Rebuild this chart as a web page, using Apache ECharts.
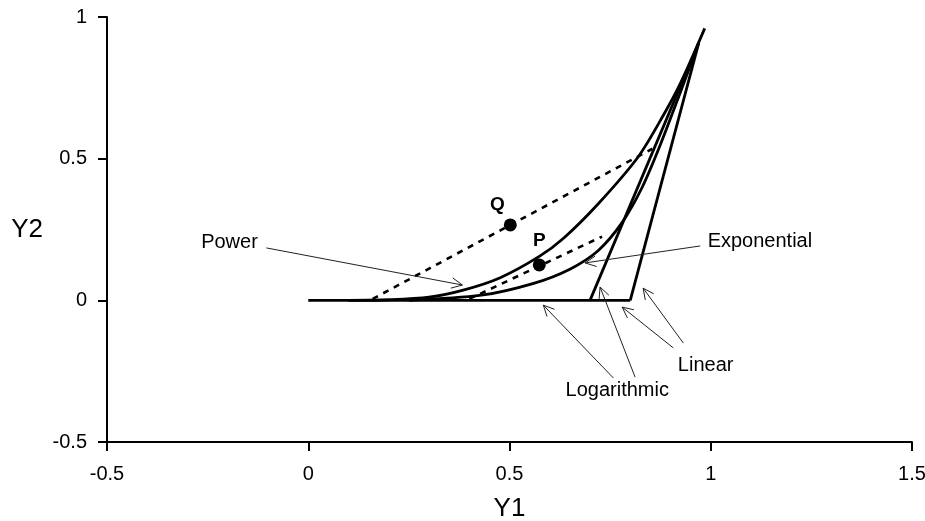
<!DOCTYPE html>
<html>
<head>
<meta charset="utf-8">
<script src="https://cdn.jsdelivr.net/npm/echarts@6/dist/echarts.min.js"></script>
<style>
  html, body { margin: 0; padding: 0; background: #fff; }
  #chart { width: 925px; height: 521px; }
</style>
</head>
<body>
<div id="chart"></div>
<script>
// axis ticks
var xTicks = [-0.5, 0, 0.5, 1, 1.5];
var yTicks = [-0.5, 0, 0.5, 1];

// curves as [Y1, Y2]
var baseLine = [[0, 0], [0.8, 0]];
var powerCurve = [[0.1, 0], [0.2, 0.002], [0.3, 0.011], [0.385, 0.036], [0.477, 0.08], [0.574, 0.155],
                  [0.635, 0.22], [0.72, 0.34], [0.819, 0.505], [0.883, 0.655], [0.926, 0.77], [0.985, 0.96]];
var expCurve = [[0.25, 0], [0.43, 0.018], [0.56, 0.06], [0.65, 0.11], [0.72, 0.175], [0.78, 0.275],
                [0.83, 0.40], [0.875, 0.55], [0.926, 0.74], [0.97, 0.908]];
var logLine = [[0.7, 0], [0.97, 0.908]];
var linearLine = [[0.8, 0], [0.97, 0.908]];
var qDashed = [[0.16, 0.005], [0.855, 0.535]];
var pDashed = [[0.40, 0.005], [0.73, 0.225]];

// the two marked points
var pointNames = ['Q', 'P'];
var pointValues = [[0.502, 0.266], [0.574, 0.125]];
var pointLabelPos = [[0.47, 0.337], [0.574, 0.212]];

// annotation arrows: [fromX, fromY, toX, toY]
var arrows = [
  [-0.104, 0.185, 0.383, 0.054],   // Power
  [0.974, 0.192, 0.688, 0.132],    // Exponential
  [0.907, -0.168, 0.780, -0.024],  // Linear
  [0.932, -0.151, 0.832, 0.043],   // Linear
  [0.758, -0.274, 0.584, -0.017],  // Logarithmic
  [0.812, -0.271, 0.725, 0.047]    // Logarithmic
];
var noteNames = ['Power', 'Exponential', 'Linear', 'Logarithmic'];
var notePos = [[-0.124, 0.203], [0.991, 0.206], [0.917, -0.229], [0.638, -0.317]];
var noteSide = ['left', 'right', 'right', 'right'];

var chart = echarts.init(document.getElementById('chart'));
var font = 'Liberation Sans, Arial, sans-serif';

function solid(data) {
  return {
    type: 'line', data: data, showSymbol: false, symbol: 'none', silent: true,
    lineStyle: { color: '#000', width: 2.8 }, z: 3
  };
}
function dashed(data) {
  return {
    type: 'line', data: data, showSymbol: false, symbol: 'none', silent: true,
    lineStyle: { color: '#000', width: 2.6, type: [6, 6] }, z: 3
  };
}

var powerSmooth = solid(powerCurve); powerSmooth.smooth = 0.3;
var expSmooth = solid(expCurve); expSmooth.smooth = 0.3;

var series = [
  solid(baseLine),
  powerSmooth,
  expSmooth,
  solid(logLine),
  solid(linearLine),
  dashed(qDashed),
  dashed(pDashed),
  {
    type: 'scatter', silent: true, z: 5,
    symbolSize: 13,
    itemStyle: { color: '#000', opacity: 1 },
    data: pointValues
  },
  {
    type: 'scatter', silent: true, z: 5,
    symbolSize: 1,
    itemStyle: { color: 'rgba(0,0,0,0)', opacity: 1 },
    label: {
      show: true, position: 'inside', color: '#000', fontSize: 19, fontWeight: 'bold', fontFamily: font,
      formatter: function (p) { return pointNames[p.dataIndex]; }
    },
    data: pointLabelPos
  },
  {
    type: 'scatter', silent: true, z: 5,
    symbolSize: 1,
    itemStyle: { color: 'rgba(0,0,0,0)', opacity: 1 },
    data: notePos.map(function (p, i) {
      return {
        value: p,
        label: {
          show: true, position: noteSide[i], distance: 0,
          color: '#000', fontSize: 20, fontFamily: font,
          formatter: noteNames[i]
        }
      };
    })
  },
  {
    type: 'custom', silent: true, z: 4,
    data: arrows,
    renderItem: function (params, api) {
      var a = api.coord([api.value(0), api.value(1)]);
      var b = api.coord([api.value(2), api.value(3)]);
      var ang = Math.atan2(b[1] - a[1], b[0] - a[0]);
      var len = 12, spread = 0.45;
      var h1 = [b[0] - len * Math.cos(ang - spread), b[1] - len * Math.sin(ang - spread)];
      var h2 = [b[0] - len * Math.cos(ang + spread), b[1] - len * Math.sin(ang + spread)];
      var st = { stroke: '#222', lineWidth: 1, fill: null };
      return {
        type: 'group',
        children: [
          { type: 'line', shape: { x1: a[0], y1: a[1], x2: b[0], y2: b[1] }, style: st },
          { type: 'polyline', shape: { points: [h1, b, h2] }, style: st }
        ]
      };
    }
  }
];

var axisCommon = {
  type: 'value',
  interval: 0.5,
  splitLine: { show: false },
  axisLine: { show: true, onZero: false, lineStyle: { color: '#000', width: 2 } },
  axisTick: { show: true, inside: false, length: 9, lineStyle: { color: '#000', width: 2 } },
  axisLabel: { color: '#000', fontSize: 20, fontFamily: font },
  nameLocation: 'middle',
  nameTextStyle: { color: '#000', fontSize: 26, fontFamily: font }
};

var option = {
  animation: false,
  backgroundColor: '#fff',
  grid: { left: 107, right: 13, top: 17, bottom: 79, containLabel: false, outerBoundsMode: 'none' },
  xAxis: Object.assign({}, axisCommon, {
    min: xTicks[0], max: xTicks[xTicks.length - 1],
    name: 'Y1', nameGap: 54,
    axisLabel: Object.assign({}, axisCommon.axisLabel, { margin: 22 })
  }),
  yAxis: Object.assign({}, axisCommon, {
    min: yTicks[0], max: yTicks[yTicks.length - 1],
    name: 'Y2', nameGap: 64, nameRotate: 0,
    nameTextStyle: Object.assign({}, axisCommon.nameTextStyle, { padding: [8, 0, 0, 0] }),
    axisLabel: Object.assign({}, axisCommon.axisLabel, { margin: 20 })
  }),
  series: series
};

chart.setOption(option);
</script>
</body>
</html>
